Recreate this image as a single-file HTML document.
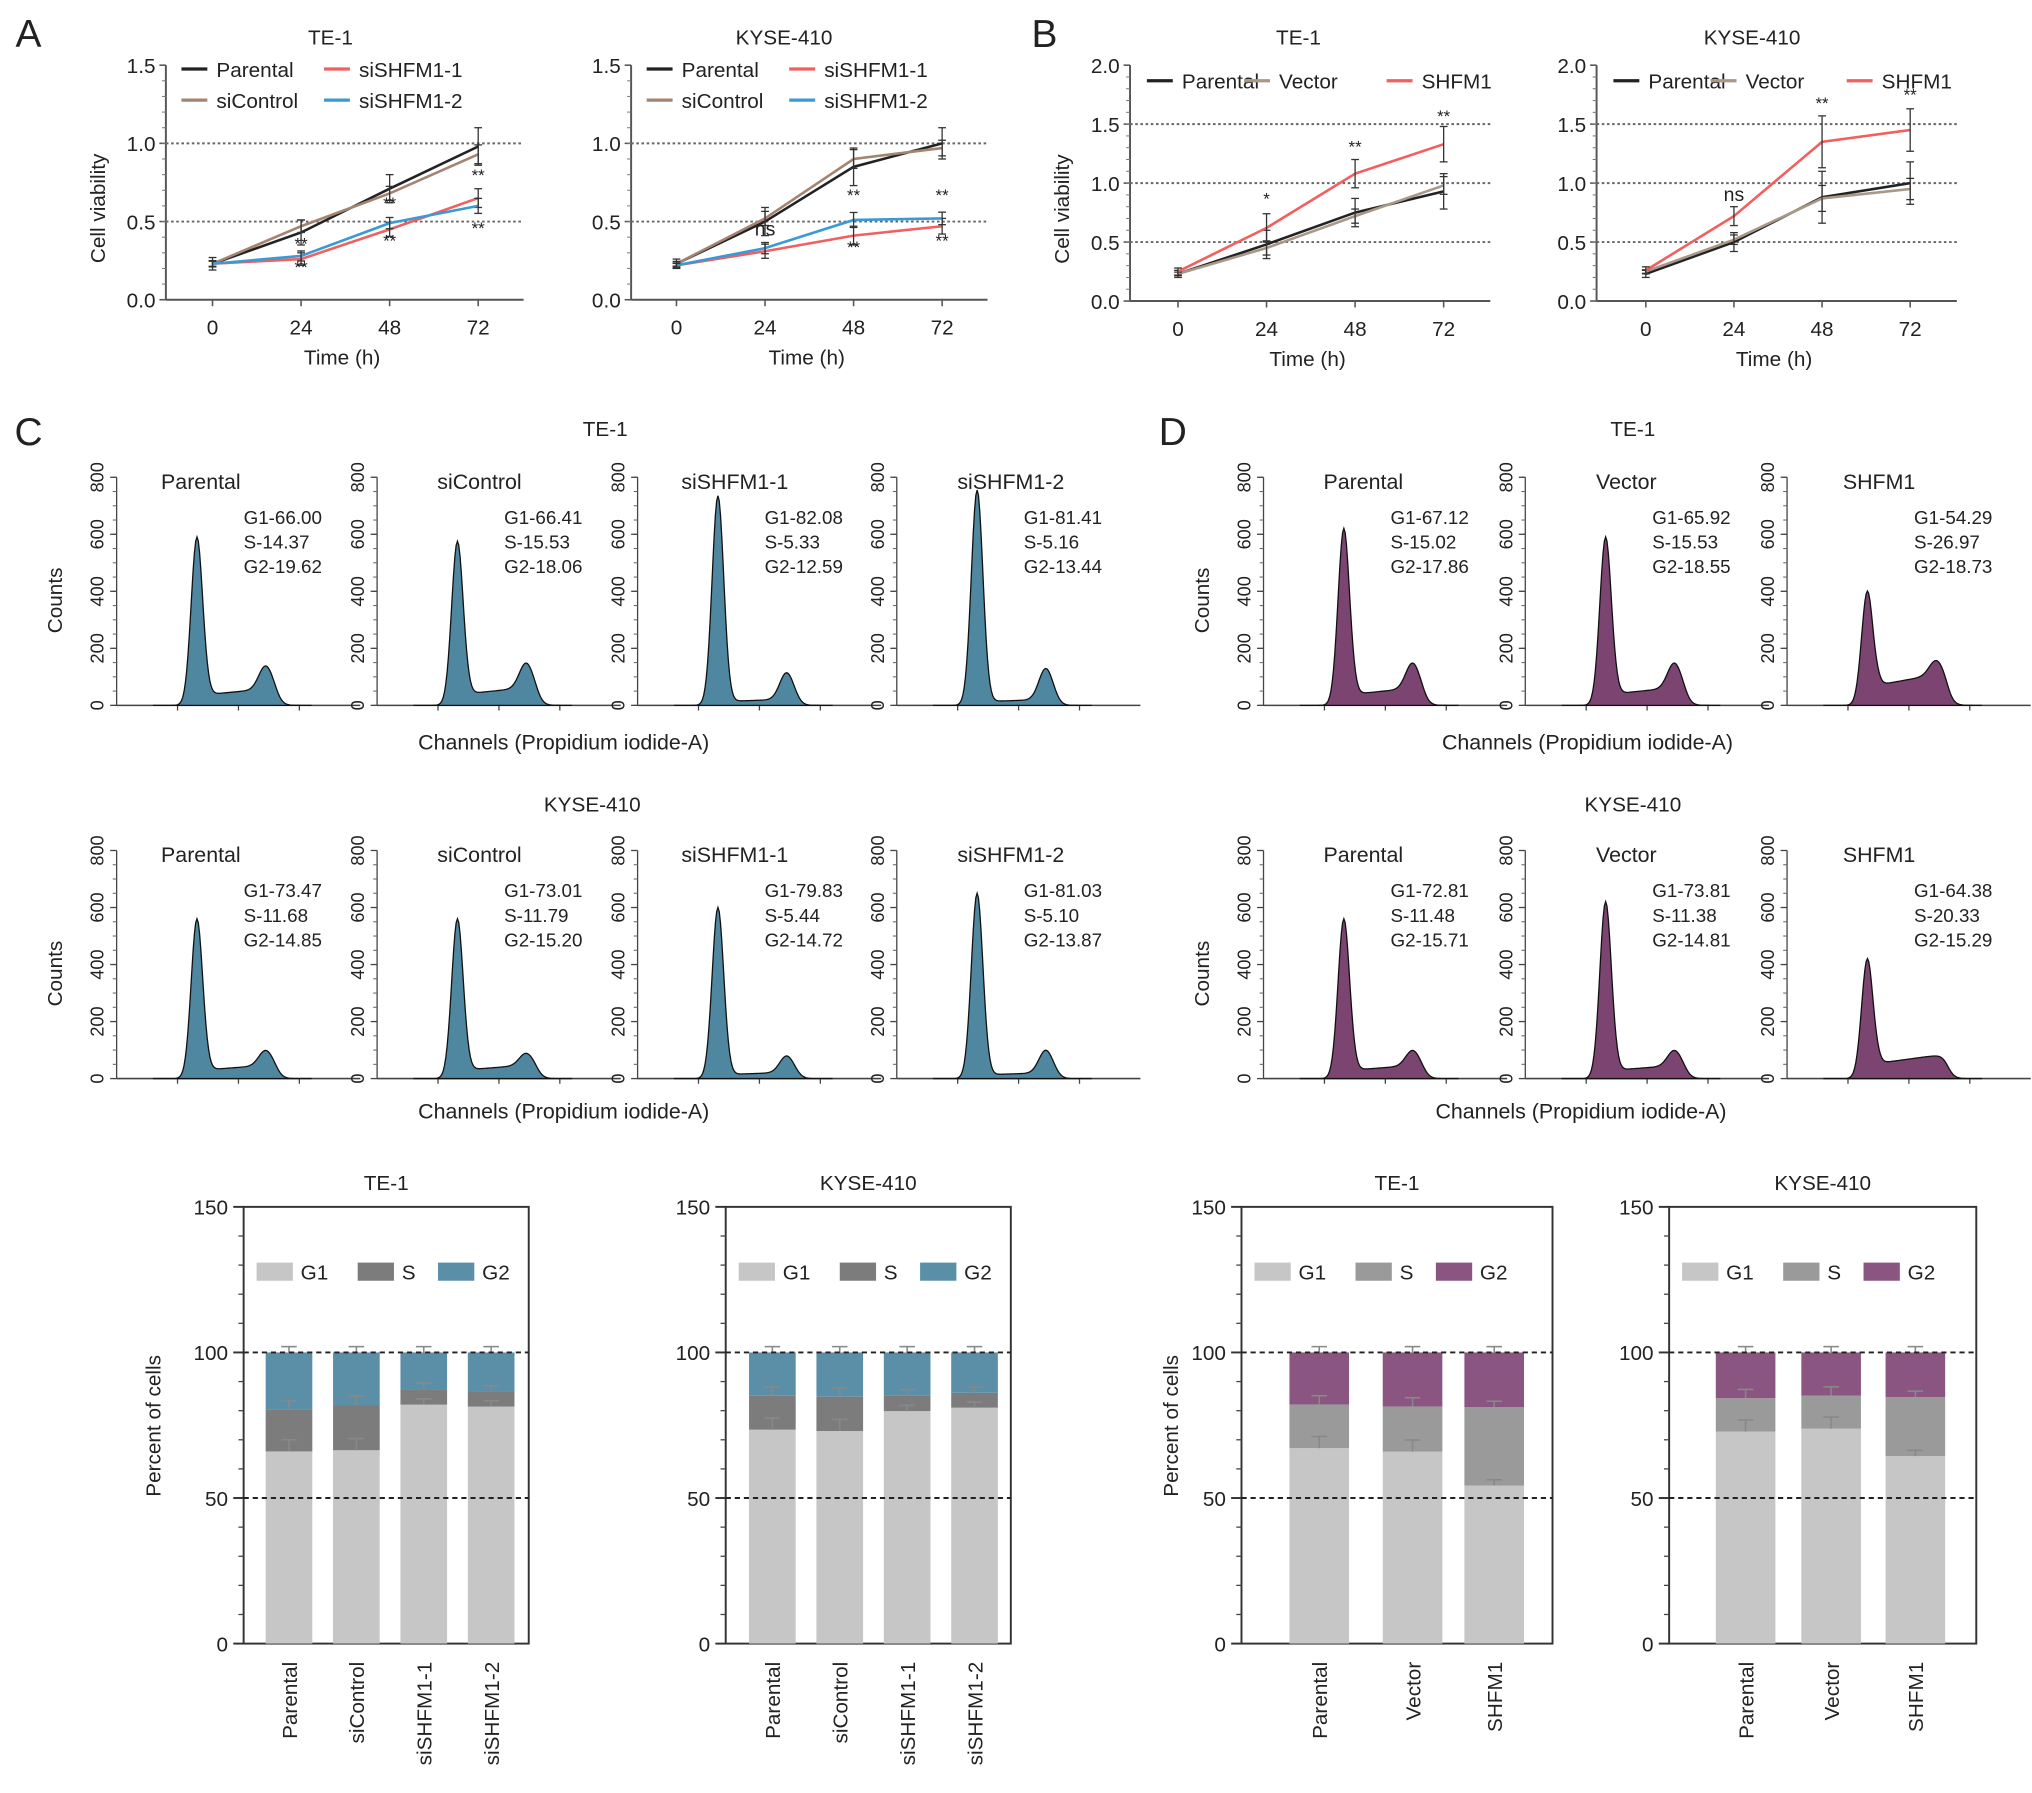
<!DOCTYPE html>
<html><head><meta charset="utf-8"><style>
html,body{margin:0;padding:0;background:#fff;}
svg{display:block;font-family:"Liberation Sans",sans-serif;}
</style></head><body>
<svg id="fig" width="2032" height="1793" viewBox="0 0 1568 1383" xmlns="http://www.w3.org/2000/svg"></svg>
<script>
// ---------- DATA ----------
const timePoints = [0, 24, 48, 72];
// Panel A TE-1
const aTe1Parental = [0.23, 0.43, 0.71, 0.98];
const aTe1SiControl = [0.23, 0.47, 0.68, 0.93];
const aTe1Si1 = [0.23, 0.26, 0.45, 0.65];
const aTe1Si2 = [0.23, 0.28, 0.49, 0.60];
const aTe1Err = [0.04, 0.08, 0.09, 0.12];
// Panel A KYSE-410
const aKyParental = [0.23, 0.50, 0.85, 1.00];
const aKySiControl = [0.23, 0.52, 0.90, 0.97];
const aKySi1 = [0.22, 0.31, 0.41, 0.47];
const aKySi2 = [0.22, 0.33, 0.51, 0.52];
const aKyErr = [0.03, 0.09, 0.12, 0.10];
// Panel B TE-1
const bTe1Parental = [0.23, 0.48, 0.75, 0.93];
const bTe1Vector = [0.23, 0.45, 0.72, 0.98];
const bTe1Shfm1 = [0.25, 0.62, 1.08, 1.33];
const bTe1Err = [0.03, 0.12, 0.12, 0.15];
// Panel B KYSE-410
const bKyParental = [0.23, 0.50, 0.88, 1.00];
const bKyVector = [0.25, 0.52, 0.87, 0.95];
const bKyShfm1 = [0.26, 0.72, 1.35, 1.45];
const bKyErr = [0.03, 0.08, 0.22, 0.18];
const lineYTicks = ["0.0","0.5","1.0","1.5","2.0"];

// Histograms
const cSamples = ["Parental","siControl","siSHFM1-1","siSHFM1-2"];
const dSamples = ["Parental","Vector","SHFM1"];
const cTe1G1 = [66.00,66.41,82.08,81.41];
const cTe1S = [14.37,15.53,5.33,5.16];
const cTe1G2 = [19.62,18.06,12.59,13.44];
const cTe1Peak = [590,575,735,755];
const cTe1G2Peak = [140,150,115,130];
const cKyG1 = [73.47,73.01,79.83,81.03];
const cKyS = [11.68,11.79,5.44,5.10];
const cKyG2 = [14.85,15.20,14.72,13.87];
const cKyPeak = [560,560,600,650];
const cKyG2Peak = [100,90,80,100];
const dTe1G1 = [67.12,65.92,54.29];
const dTe1S = [15.02,15.53,26.97];
const dTe1G2 = [17.86,18.55,18.73];
const dTe1Peak = [620,590,400];
const dTe1G2Peak = [150,150,160];
const dKyG1 = [72.81,73.81,64.38];
const dKyS = [11.48,11.38,20.33];
const dKyG2 = [15.71,14.81,15.29];
const dKyPeak = [560,620,420];
const dKyG2Peak = [100,100,70];
const histYTicks = [0,200,400,600,800];

// Bar errors
const barErrG1 = [4,4,2,2];
const barErrS = [2,2,1,1];
const barYTicks = [0,50,100,150];

// ---------- HELPERS ----------
const svg = document.getElementById('fig');
const NS = 'http://www.w3.org/2000/svg';
function mk(tag, attrs, parent){
  const e = document.createElementNS(NS, tag);
  for (const k in attrs) e.setAttribute(k, attrs[k]);
  (parent||svg).appendChild(e);
  return e;
}
function txt(x,y,s,size,anchor,parent,rot){
  const t = mk('text',{x:x,y:y,'font-size':size,'text-anchor':anchor||'middle',fill:'#222'},parent);
  if (rot) t.setAttribute('transform','rotate('+rot+' '+x+' '+y+')');
  t.textContent = s;
  return t;
}
function line(x1,y1,x2,y2,stroke,w,parent,dash){
  const l = mk('line',{x1:x1,y1:y1,x2:x2,y2:y2,stroke:stroke,'stroke-width':w||1},parent);
  if (dash) l.setAttribute('stroke-dasharray',dash);
  return l;
}

// panel letters
[['A',22,36],['B',806,36],['C',22,343],['D',905,343]].forEach(p=>{
  const t = txt(p[1],p[2],p[0],30,'middle');
  
  
});

// ---------- LINE CHARTS ----------
function lineChart(cfg){
  const g = mk('g',{});
  
  
  const yS = v => cfg.y0 - (v/cfg.ymax)*(cfg.y0-cfg.y1);
  const xS = t => cfg.x0 + (t/72)*(cfg.x72-cfg.x0);
  line(cfg.ax, cfg.y1, cfg.ax, cfg.y0, '#555', 1.5, g);
  line(cfg.ax, cfg.y0, cfg.xend, cfg.y0, '#555', 1.5, g);
  const nT = cfg.ymax/0.5;
  for (let i=0;i<=nT;i++){
    const v=i*0.5, y=yS(v);
    line(cfg.ax-5,y,cfg.ax,y,'#555',1.2,g);
    const t = txt(cfg.ax-8,y+6,lineYTicks[i],16,'end',g);
    
    
  }
  for (let v=0.1; v<cfg.ymax; v+=0.1){ line(cfg.ax-3,yS(v),cfg.ax,yS(v),'#777',0.8,g); }
  cfg.dotted.forEach(v=>line(cfg.ax,yS(v),cfg.xend,yS(v),'#666',1.5,g,'2,2'));
  timePoints.forEach(tp=>{
    line(xS(tp),cfg.y0,xS(tp),cfg.y0+5,'#555',1.2,g);
    const t = txt(xS(tp),cfg.y0+27,String(tp),16,'middle',g);
    
    
  });
  const xt = txt((cfg.ax+cfg.xend)/2-2,cfg.y0+50,'Time (h)',16,'middle',g);
  
  
  if (cfg.ylabel){
    const yt = txt(cfg.ax-47,(cfg.y0+cfg.y1)/2+20,'Cell viability',16,'middle',g,-90);
    
    
  }
  const tt = txt(cfg.titleX, cfg.y1-16, cfg.title, 16, 'middle', g);
  
  
  cfg.series.forEach(s=>{
    const pts = s.values.map((v,i)=>xS(timePoints[i])+','+yS(v)).join(' ');
    const pl = mk('polyline',{points:pts,fill:'none',stroke:s.color,'stroke-width':2},g);
    
    
    s.values.forEach((v,i)=>{
      const e = cfg.err[i]*(s.errScale||1);
      const x = xS(timePoints[i]);
      line(x,yS(v+e),x,yS(v-e),'#333',1,g);
      line(x-3,yS(v+e),x+3,yS(v+e),'#333',1,g);
      line(x-3,yS(v-e),x+3,yS(v-e),'#333',1,g);
    });
  });
  (cfg.marks||[]).forEach(m=>{
    const t = txt(xS(m[0]), yS(m[1]), m[2], m[2]==='ns'?15:13, 'middle', g);
    
    
  });
  cfg.legend.forEach(l=>{
    line(l[0],l[1],l[0]+20,l[1],l[3],2.5,g);
    const t = txt(l[0]+27,l[1]+6,l[2],16,'start',g);
    
    
  });
}
const cBlack='#222', cBrown='#a48470', cRed='#f25f5f', cBlue='#3a9ad4';
lineChart({name:'chart-a-te1',ax:128,xend:404,x0:164,x72:369,y0:231,y1:50,ymax:1.5,dotted:[0.5,1.0],ylabel:true,title:'TE-1',titleX:255,err:aTe1Err,
  series:[{key:'parental',values:aTe1Parental,color:cBlack},{key:'sicontrol',values:aTe1SiControl,color:cBrown,errScale:0.5},{key:'sishfm1-1',values:aTe1Si1,color:cRed,errScale:0.5},{key:'sishfm1-2',values:aTe1Si2,color:cBlue,errScale:0.4}],
  legend:[[140,53,'Parental',cBlack],[250,53,'siSHFM1-1',cRed],[140,77,'siControl',cBrown],[250,77,'siSHFM1-2',cBlue]],
  marks:[[24,0.32,'**'],[24,0.17,'**'],[48,0.58,'**'],[48,0.34,'**'],[72,0.76,'**'],[72,0.42,'**']]});
lineChart({name:'chart-a-kyse410',ax:487,xend:762,x0:522,x72:727,y0:231,y1:50,ymax:1.5,dotted:[0.5,1.0],ylabel:false,title:'KYSE-410',titleX:605,err:aKyErr,
  series:[{key:'parental',values:aKyParental,color:cBlack},{key:'sicontrol',values:aKySiControl,color:cBrown,errScale:0.5},{key:'sishfm1-1',values:aKySi1,color:cRed,errScale:0.5},{key:'sishfm1-2',values:aKySi2,color:cBlue,errScale:0.4}],
  legend:[[499,53,'Parental',cBlack],[609,53,'siSHFM1-1',cRed],[499,77,'siControl',cBrown],[609,77,'siSHFM1-2',cBlue]],
  marks:[[24,0.41,'ns'],[48,0.63,'**'],[48,0.30,'**'],[72,0.63,'**'],[72,0.34,'**']]});
lineChart({name:'chart-b-te1',ax:872,xend:1150,x0:909,x72:1114,y0:232,y1:50,ymax:2.0,dotted:[0.5,1.0,1.5],ylabel:true,title:'TE-1',titleX:1002,err:bTe1Err,
  series:[{key:'parental',values:bTe1Parental,color:cBlack},{key:'vector',values:bTe1Vector,color:'#a89888',errScale:0.5},{key:'shfm1',values:bTe1Shfm1,color:cRed}],
  legend:[[885,62,'Parental',cBlack],[960,62,'Vector','#a89888'],[1070,62,'SHFM1',cRed]],
  marks:[[24,0.82,'*'],[48,1.26,'**'],[72,1.52,'**']]});
lineChart({name:'chart-b-kyse410',ax:1232,xend:1510,x0:1270,x72:1474,y0:232,y1:50,ymax:2.0,dotted:[0.5,1.0,1.5],ylabel:false,title:'KYSE-410',titleX:1352,err:bKyErr,
  series:[{key:'parental',values:bKyParental,color:cBlack},{key:'vector',values:bKyVector,color:'#a89888',errScale:0.5},{key:'shfm1',values:bKyShfm1,color:cRed}],
  legend:[[1245,62,'Parental',cBlack],[1320,62,'Vector','#a89888'],[1425,62,'SHFM1',cRed]],
  marks:[[24,0.85,'ns'],[48,1.63,'**'],[72,1.70,'**']]});

// ---------- HISTOGRAMS ----------
function histo(ax, y0, y1, sample, g1, s, g2, peak, g2peak, fill, showCounts, nameOff){
  const g = mk('g',{});
  
  
  const yS = v => y0 - v/800*(y0-y1);
  line(ax,y0,ax,y1,'#444',1,g);
  line(ax,y0,ax+188,y0,'#444',1.2,g);
  for (let v=0; v<=800; v+=50) line(ax-3,yS(v),ax,yS(v),'#666',0.8,g);
  histYTicks.forEach(v=>{
    line(ax-5,yS(v),ax,yS(v),'#444',1,g);
    const t = txt(ax-10,yS(v),String(v),14,'middle',g,-90);
    
    
  });
  [1,2,3].forEach(i=>line(ax+i*47,y0,ax+i*47,y0+4,'#444',1,g));
  const c1=ax+62, c2=ax+115;
  const sLevel = s*4.0;
  let pts = [];
  for (let x=ax+28; x<=ax+150; x+=1){
    let v = peak*Math.exp(-Math.pow(x-c1,2)/(2*20));
    const ramp = 1/(1+Math.exp(-(x-c1-6)/1.5)) * (1/(1+Math.exp((x-c2-9)/2.5)));
    const sv = sLevel*ramp*(0.6+0.4*(x-c1)/(c2-c1));
    v += sv;
    v += Math.max(0, g2peak - sLevel)*Math.exp(-Math.pow(x-c2,2)/(2*28));
    pts.push(x+','+yS(v));
  }
  const poly = mk('polygon',{points:(ax+28)+','+y0+' '+pts.join(' ')+' '+(ax+150)+','+y0,fill:fill,stroke:'#111','stroke-width':1},g);
  
  
  const nm = txt(ax+nameOff,y1+9,sample,16.5,'middle',g);
  
  
  [['G1-',g1],['S-',s],['G2-',g2]].forEach((r,i)=>{
    const t = txt(ax+98,y1+36+i*19,r[0]+r[1].toFixed(2),14.5,'start',g);
    
    
  });
  if (showCounts){
    const t = txt(ax-42,(y0+y1)/2+7,'Counts',16,'middle',g,-90);
    
    
  }
}
const cAx=[90,291,492,692], dAx=[975,1177,1379];
const cNameOff=[65,79,75,88], dNameOff=[77,78,71];
const teal='#4f87a0', purple='#7c4470';
cSamples.forEach((n,i)=>histo(cAx[i],544,368,n,cTe1G1[i],cTe1S[i],cTe1G2[i],cTe1Peak[i],cTe1G2Peak[i],teal,i===0,cNameOff[i]));
cSamples.forEach((n,i)=>histo(cAx[i],832,656,n,cKyG1[i],cKyS[i],cKyG2[i],cKyPeak[i],cKyG2Peak[i],teal,i===0,cNameOff[i]));
dSamples.forEach((n,i)=>histo(dAx[i],544,368,n,dTe1G1[i],dTe1S[i],dTe1G2[i],dTe1Peak[i],dTe1G2Peak[i],purple,i===0,dNameOff[i]));
dSamples.forEach((n,i)=>histo(dAx[i],832,656,n,dKyG1[i],dKyS[i],dKyG2[i],dKyPeak[i],dKyG2Peak[i],purple,i===0,dNameOff[i]));
[[467,336,'TE-1'],[457,626,'KYSE-410'],[1260,336,'TE-1'],[1260,626,'KYSE-410']].forEach(t=>{
  const e = txt(t[0],t[1],t[2],16,'middle');
  
  
});
[[435,578],[435,863],[1225,578],[1220,863]].forEach(p=>{
  const e = txt(p[0],p[1],'Channels (Propidium iodide-A)',16.5,'middle');
  
  
});

// ---------- STACKED BARS ----------
function barChart(cfg){
  const g = mk('g',{});
  
  
  const y0=1268, y1=931;
  const yS = v => y0 - v/150*(y0-y1);
  const box = mk('rect',{x:cfg.ax,y:y1,width:cfg.xend-cfg.ax,height:y0-y1,fill:'none',stroke:'#333','stroke-width':1.5},g);
  
  
  for (let v=0; v<=150; v+=10) line(cfg.ax-4,yS(v),cfg.ax,yS(v),'#444',1,g);
  barYTicks.forEach(v=>{
    line(cfg.ax-8,yS(v),cfg.ax,yS(v),'#333',1.5,g);
    const t = txt(cfg.ax-12,yS(v)+6,String(v),16,'end',g);
    
    
  });
  cfg.cats.forEach((c,i)=>{
    const cx = cfg.centers[i], w = cfg.bw;
    const segs = [[0,cfg.g1[i],'#c6c6c6','g1'],[cfg.g1[i],cfg.g1[i]+cfg.s[i],cfg.sColor,'s'],[cfg.g1[i]+cfg.s[i],100,cfg.g2Color,'g2']];
    segs.forEach(sg=>{
      const r = mk('rect',{x:cx-w/2,y:yS(sg[1]),width:w,height:yS(sg[0])-yS(sg[1]),fill:sg[2]},g);
      
      
    });
    const tops=[[cfg.g1[i],barErrG1[i%4]],[cfg.g1[i]+cfg.s[i],barErrS[i%4]+1],[100,2]];
    tops.forEach(tp=>{
      const col = '#888';
      line(cx,yS(tp[0]),cx,yS(tp[0]+tp[1]),col,1.2,g);
      line(cx-6,yS(tp[0]+tp[1]),cx+6,yS(tp[0]+tp[1]),col,1.2,g);
    });
    const t = txt(cx+6,1282,c,16,'end',g,-90);
    
    
  });
  line(cfg.ax,yS(100),cfg.xend,yS(100),'#222',1.5,g,'4,3');
  line(cfg.ax,yS(50),cfg.xend,yS(50),'#222',1.5,g,'4,3');
  const tt = txt((cfg.ax+cfg.xend)/2,y1-13,cfg.title,16,'middle',g);
  
  
  if (cfg.ylabel){
    const yt = txt(cfg.ylx,1100,'Percent of cells',16,'middle',g,-90);
    
    
  }
  const lx = cfg.ax+10, ly = 981;
  [['G1','#c6c6c6',0],['S',cfg.sColor,78],['G2',cfg.g2Color,140]].forEach(l=>{
    const r = mk('rect',{x:lx+l[2],y:ly-7,width:28,height:14,fill:l[1]},g);
    
    
    const t = txt(lx+l[2]+34,ly+6,l[0],16,'start',g);
    
    
  });
}
barChart({name:'bar-chart-c-te1',ax:188,xend:408,centers:[223,275,327,379],bw:36,cats:cSamples,g1:cTe1G1,s:cTe1S,sColor:'#7c7c7c',g2Color:'#5b8fa8',title:'TE-1',ylabel:true,ylx:124});
barChart({name:'bar-chart-c-kyse410',ax:560,xend:780,centers:[596,648,700,752],bw:36,cats:cSamples,g1:cKyG1,s:cKyS,sColor:'#7c7c7c',g2Color:'#5b8fa8',title:'KYSE-410',ylabel:false});
barChart({name:'bar-chart-d-te1',ax:958,xend:1198,centers:[1018,1090,1153],bw:46,cats:dSamples,g1:dTe1G1,s:dTe1S,sColor:'#9a9a9a',g2Color:'#8a5580',title:'TE-1',ylabel:true,ylx:909});
barChart({name:'bar-chart-d-kyse410',ax:1288,xend:1525,centers:[1347,1413,1478],bw:46,cats:dSamples,g1:dKyG1,s:dKyS,sColor:'#9a9a9a',g2Color:'#8a5580',title:'KYSE-410',ylabel:false});
</script>
</body></html>
